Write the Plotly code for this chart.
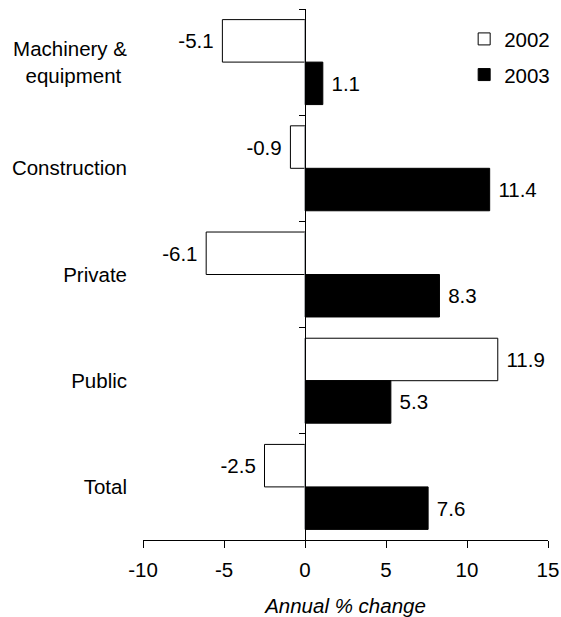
import plotly.graph_objects as go

categories = ["Machinery &<br>equipment\u00a0", "Construction", "Private", "Public", "Total"]
values_2002 = [-5.1, -0.9, -6.1, 11.9, -2.5]
values_2003 = [1.1, 11.4, 8.3, 5.3, 7.6]
x_ticks = [-10, -5, 0, 5, 10, 15]
x_tick_labels = ["-10", "-5", "0", "5", "10", "15"]

FONT = "Liberation Sans, Arial, sans-serif"
FS = 20.5
NB = "\u00a0"


def label(v):
    s = f"{v:.1f}"
    return s + NB if v < 0 else NB + s


fig = go.Figure()
fig.add_trace(go.Bar(
    name="2002", y=categories, x=values_2002, orientation="h", legendgroup="a",
    marker=dict(color="white", line=dict(color="black", width=1)),
    text=[label(v) for v in values_2002], textposition="outside",
    textfont=dict(family=FONT, size=FS, color="black"), cliponaxis=False,
))
fig.add_trace(go.Bar(
    name="2003", y=categories, x=values_2003, orientation="h", legendgroup="b",
    marker=dict(color="black", line=dict(color="black", width=1)),
    text=[label(v) for v in values_2003], textposition="outside",
    textfont=dict(family=FONT, size=FS, color="black"), cliponaxis=False,
))
# invisible trace to carry the zero-position axis (ticks at category boundaries)
fig.add_trace(go.Bar(
    y=categories, x=[0] * len(categories), orientation="h", yaxis="y2",
    showlegend=False, hoverinfo="skip", marker=dict(color="rgba(0,0,0,0)"),
))

fig.update_layout(
    width=561, height=617,
    margin=dict(l=143, r=13, t=9, b=77, autoexpand=False),
    paper_bgcolor="white", plot_bgcolor="white",
    font=dict(family=FONT, size=FS, color="black"),
    barmode="group", bargap=0.2, bargroupgap=0,
    showlegend=True,
    legend=dict(x=0.793, y=0.981, xanchor="left", yanchor="top",
                bgcolor="rgba(0,0,0,0)", font=dict(family=FONT, size=FS),
                tracegroupgap=6),
    xaxis=dict(range=[-10, 15], tickvals=x_ticks, ticktext=x_tick_labels,
               ticks="outside", ticklen=7, ticklabelstandoff=4,
               showline=True, linecolor="black", linewidth=1, showgrid=False,
               zeroline=False, tickcolor="black",
               title=dict(text="<i>Annual % change</i>", standoff=20,
                          font=dict(family=FONT, size=FS))),
    yaxis=dict(type="category", autorange="reversed", showgrid=False,
               showline=False, ticks="", zeroline=False, ticklabelstandoff=15),
    yaxis2=dict(type="category", autorange="reversed", overlaying="y",
                anchor="free", position=0.4, side="left", showline=True,
                linecolor="black", linewidth=1, ticks="outside", ticklen=6,
                tickcolor="black", tickson="boundaries", showticklabels=False,
                showgrid=False, zeroline=False),
)

fig.write_html("out.html")
